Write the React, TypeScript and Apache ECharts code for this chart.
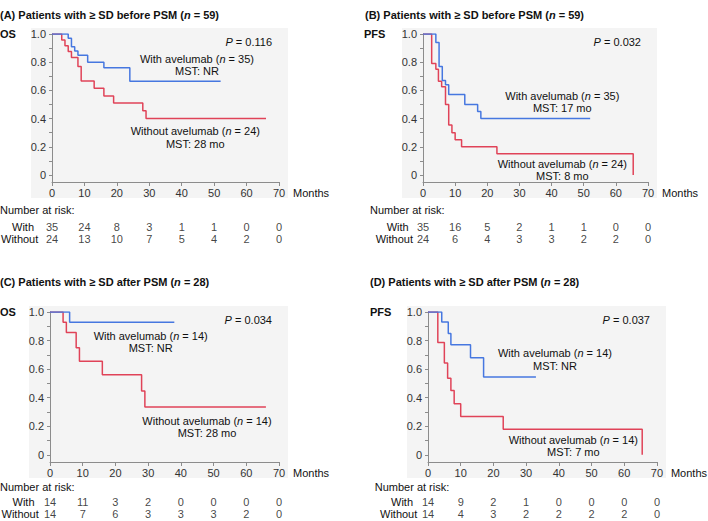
import React, { useEffect, useRef } from "react";
import * as echarts from "echarts";

// ---------- data ----------
const riskTimes = [0, 10, 20, 30, 40, 50, 60, 70];
const xTicks = [0, 10, 20, 30, 40, 50, 60, 70];
const yTickLabels = [0, 0.2, 0.4, 0.6, 0.8, 1.0];
const yMinorTicks = [0, 0.1, 0.2, 0.3, 0.4, 0.5, 0.6, 0.7, 0.8, 0.9, 1.0];

// (A) OS before PSM
const osBeforeWith = [[0, 1], [5, 0.97], [6, 0.91], [7, 0.88], [8, 0.85], [11, 0.8], [16, 0.76], [24, 0.665], [52, 0.665]];
const osBeforeWithout = [[0, 1], [3, 0.958], [4, 0.917], [5, 0.875], [6, 0.833], [8, 0.77], [9, 0.667], [13, 0.615], [16, 0.56], [19, 0.51], [28, 0.455], [29, 0.4], [66, 0.4]];
// (B) PFS before PSM
const pfsBeforeWith = [[0, 1], [4, 0.94], [5, 0.77], [6, 0.67], [7, 0.64], [8, 0.57], [13, 0.5], [17, 0.45], [18, 0.4], [52, 0.4]];
const pfsBeforeWithout = [[0, 1], [2.7, 0.79], [4, 0.75], [4.8, 0.665], [5.8, 0.625], [7, 0.5], [8, 0.355], [9, 0.3], [10, 0.25], [12, 0.2], [23, 0.15], [65.4, 0.15], [65.4, 0]];
// (C) OS after PSM
const osAfterWith = [[0, 1], [6, 0.929], [38, 0.929]];
const osAfterWithout = [[0, 1], [4, 0.929], [5, 0.857], [8, 0.75], [9, 0.655], [16, 0.56], [28, 0.447], [29, 0.335], [66, 0.335]];
// (D) PFS after PSM
const pfsAfterWith = [[0, 1], [4.2, 0.93], [6.2, 0.85], [7, 0.77], [13, 0.68], [17, 0.545], [33, 0.545]];
const pfsAfterWithout = [[0, 1], [3, 0.786], [5, 0.643], [6, 0.536], [7, 0.45], [8, 0.357], [10, 0.268], [23, 0.179], [65.5, 0.179], [65.5, 0]];

// numbers at risk
const riskAWith = [35, 24, 8, 3, 1, 1, 0, 0];
const riskAWithout = [24, 13, 10, 7, 5, 4, 2, 0];
const riskBWith = [35, 16, 5, 2, 1, 1, 0, 0];
const riskBWithout = [24, 6, 4, 3, 3, 2, 2, 0];
const riskCWith = [14, 11, 3, 2, 0, 0, 0, 0];
const riskCWithout = [14, 7, 6, 3, 3, 3, 2, 0];
const riskDWith = [14, 9, 2, 1, 0, 0, 0, 0];
const riskDWithout = [14, 4, 3, 2, 2, 2, 2, 0];

// texts
const panelTitles = ["(A) Patients with ≥ SD before PSM", "(B) Patients with ≥ SD before PSM", "(C) Patients with ≥ SD after PSM", "(D) Patients with ≥ SD after PSM"];
const panelN = [59, 59, 28, 28];
const endpoints = ["OS", "PFS", "OS", "PFS"];
const pValues = ["0.116", "0.032", "0.034", "0.037"];
const withN = [35, 35, 14, 14];
const withoutN = [24, 24, 14, 14];
const withMST = ["NR", "17 mo", "NR", "NR"];
const withoutMST = ["28 mo", "8 mo", "28 mo", "7 mo"];

// ---------- layout ----------
const FONT = '"Liberation Sans", Arial, Helvetica, sans-serif';
const BLUE = "#4677e0";
const RED = "#e04358";
const AXIS = "#8c8c8c";

const layout = [
  { left: 52, top: 34, width: 227, height: 148, riskTop: 226.7, riskH: 12.6, titleX: 0, titleY: 15, epX: 0, epY: 34, narX: 0, narY: 210, withoutX: 1, withA: [197, 58.7, 71.3], withoutA: [195.3, 130.7, 144] },
  { left: 423, top: 34, width: 225, height: 148, riskTop: 226.7, riskH: 12.6, titleX: 365, titleY: 15, epX: 364, epY: 34, narX: 370, narY: 210, withoutX: 375.7, withA: [562.3, 95.7, 108.2], withoutA: [562.3, 163.5, 176] },
  { left: 50, top: 312, width: 229, height: 150, riskTop: 501.5, riskH: 12.8, titleX: 0, titleY: 282, epX: 0, epY: 312, narX: 0, narY: 487, withoutX: 1.5, withA: [150.7, 335.7, 348.3], withoutA: [207, 420.5, 433] },
  { left: 428, top: 312, width: 229, height: 150, riskTop: 501.5, riskH: 12.8, titleX: 370, titleY: 282, epX: 370, epY: 312, narX: 374.7, narY: 487, withoutX: 380, withA: [555, 353.3, 366], withoutA: [573.3, 440, 452.3] },
];

const curvesWith = [osBeforeWith, pfsBeforeWith, osAfterWith, pfsAfterWith];
const curvesWithout = [osBeforeWithout, pfsBeforeWithout, osAfterWithout, pfsAfterWithout];
const risksWith = [riskAWith, riskBWith, riskCWith, riskDWith];
const risksWithout = [riskAWithout, riskBWithout, riskCWithout, riskDWithout];

function txt(x: number, y: number, text: string, opts: any = {}) {
  const align = opts.align || "left";
  const style: any = {
    text,
    fill: opts.fill || "#111",
    fontSize: opts.fontSize || 11,
    fontFamily: FONT,
    fontWeight: opts.bold ? "bold" : "normal",
    align,
    textAlign: align,
    verticalAlign: "middle",
    textVerticalAlign: "middle",
  };
  if (opts.rich) style.rich = opts.rich;
  return { type: "text", x, y, z: 100, style };
}

const italicRich = {
  i: { fontStyle: "italic", fontSize: 11, fontFamily: FONT, fill: "#111" },
};
const boldItalicRich = {
  bi: { fontStyle: "italic", fontWeight: "bold", fontSize: 11, fontFamily: FONT, fill: "#111" },
};

function buildOption() {
  const grid: any[] = [];
  const xAxis: any[] = [];
  const yAxis: any[] = [];
  const series: any[] = [];
  const graphic: any[] = [];

  layout.forEach((L, i) => {
    grid.push({ left: L.left, top: L.top, width: L.width, height: L.height, containLabel: false });
    xAxis.push({
      gridIndex: i,
      type: "value",
      min: 0,
      max: 70,
      interval: 10,
      axisLine: { show: true, onZero: false, lineStyle: { color: AXIS, width: 1 } },
      axisTick: { show: true, length: 4, lineStyle: { color: AXIS } },
      axisLabel: { color: "#333", fontSize: 11, fontFamily: FONT, margin: 5, customValues: xTicks },
      splitLine: { show: false },
      name: "Months",
      nameLocation: "end",
      nameGap: 14,
      nameTextStyle: { color: "#111", fontSize: 11, fontFamily: FONT, verticalAlign: "top", padding: [5, 0, 0, 0] },
    });
    yAxis.push({
      gridIndex: i,
      type: "value",
      min: -0.05,
      max: 1,
      axisLine: { show: true, onZero: false, lineStyle: { color: AXIS, width: 1 } },
      axisTick: { show: true, length: 3, lineStyle: { color: AXIS }, customValues: yMinorTicks },
      axisLabel: {
        color: "#333",
        fontSize: 11,
        fontFamily: FONT,
        margin: 6,
        customValues: yTickLabels,
        formatter: (v: number) => (Math.abs(v) < 1e-9 ? "0" : v.toFixed(1)),
      },
      splitLine: { show: false },
    });
    series.push({
      type: "line",
      xAxisIndex: i,
      yAxisIndex: i,
      step: "end",
      symbol: "none",
      data: curvesWithout[i],
      lineStyle: { color: RED, width: 1.5 },
      itemStyle: { color: RED },
      z: 3,
    });
    series.push({
      type: "line",
      xAxisIndex: i,
      yAxisIndex: i,
      step: "end",
      symbol: "none",
      data: curvesWith[i],
      lineStyle: { color: BLUE, width: 1.5 },
      itemStyle: { color: BLUE },
      z: 4,
    });

    // gray plot background
    graphic.push({
      type: "rect",
      z: -100,
      shape: { x: L.left - 21, y: L.top - 6, width: L.width + 30, height: L.height + 22 },
      style: { fill: "#f4f4f4" },
    });

    graphic.push(txt(L.titleX, L.titleY, `${panelTitles[i]} ({bi|n} = ${panelN[i]})`, { bold: true, rich: boldItalicRich }));
    graphic.push(txt(L.epX, L.epY, endpoints[i], { bold: true }));
    graphic.push(txt(L.left + L.width - 7, L.top + 8, `{i|P} = ${pValues[i]}`, { align: "right", rich: italicRich }));
    graphic.push(txt(L.withA[0], L.withA[1], `With avelumab ({i|n} = ${withN[i]})`, { align: "center", rich: italicRich }));
    graphic.push(txt(L.withA[0], L.withA[2], `MST: ${withMST[i]}`, { align: "center" }));
    graphic.push(txt(L.withoutA[0], L.withoutA[1], `Without avelumab ({i|n} = ${withoutN[i]})`, { align: "center", rich: italicRich }));
    graphic.push(txt(L.withoutA[0], L.withoutA[2], `MST: ${withoutMST[i]}`, { align: "center" }));
    graphic.push(txt(L.narX, L.narY, "Number at risk:"));
    graphic.push(txt(L.withoutX + 11, L.riskTop, "With"));
    graphic.push(txt(L.withoutX, L.riskTop + L.riskH, "Without"));
  });

  // risk table grids
  layout.forEach((L, i) => {
    const gi = 4 + i;
    grid.push({ left: L.left, top: L.riskTop, width: L.width, height: L.riskH, containLabel: false });
    xAxis.push({ gridIndex: gi, type: "value", min: 0, max: 70, show: false });
    yAxis.push({ gridIndex: gi, type: "value", min: 0, max: 1, show: false });
    const data: any[] = [];
    riskTimes.forEach((t, k) => {
      data.push([t, 1, risksWith[i][k]]);
      data.push([t, 0, risksWithout[i][k]]);
    });
    series.push({
      type: "scatter",
      xAxisIndex: gi,
      yAxisIndex: gi,
      symbolSize: 1,
      itemStyle: { color: "rgba(0,0,0,0)" },
      data,
      label: {
        show: true,
        position: "inside",
        formatter: (p: any) => String(p.value[2]),
        color: "#111",
        fontSize: 11,
        fontFamily: FONT,
      },
      silent: true,
    });
  });

  return {
    animation: false,
    backgroundColor: "#ffffff",
    textStyle: { fontFamily: FONT },
    grid,
    xAxis,
    yAxis,
    series,
    graphic: { elements: graphic },
  };
}

export default function App() {
  const ref = useRef<HTMLDivElement>(null);
  useEffect(() => {
    document.body.style.margin = "0";
    if (!ref.current) return;
    const chart = echarts.init(ref.current, undefined, { renderer: "svg" });
    chart.setOption(buildOption() as any);
    return () => chart.dispose();
  }, []);
  return <div ref={ref} style={{ width: 708, height: 521 }} />;
}
